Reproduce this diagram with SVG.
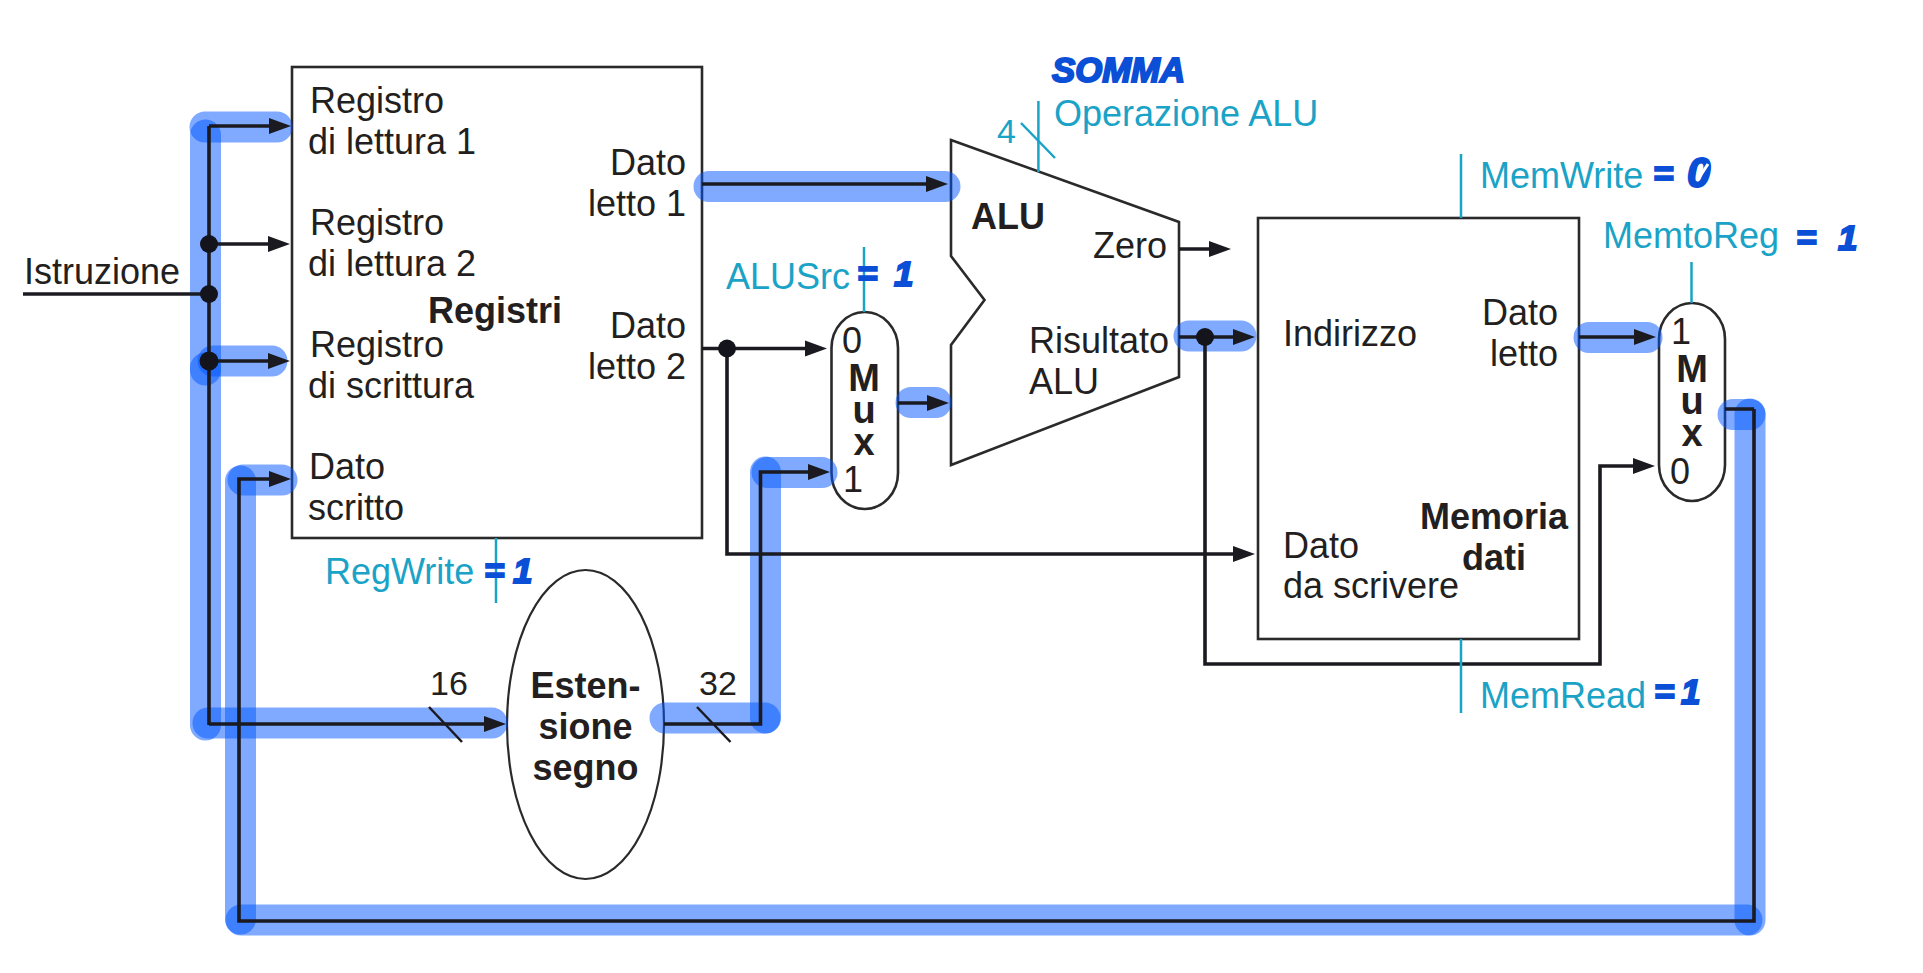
<svg xmlns="http://www.w3.org/2000/svg" width="1923" height="973" viewBox="0 0 1923 973">
<style>
text{font-family:"Liberation Sans",Arial,sans-serif;font-size:36px;fill:#231f20}
.b{font-weight:bold}
.m{text-anchor:middle}
.e{text-anchor:end}
.t{fill:#1aa3c6}
.x{font-size:38px}
.box{fill:#fff;stroke:#2b2a2b;stroke-width:2.6}
.ctl{fill:none;stroke:#1aa3c6;stroke-width:2.5}
.hl{fill:none;stroke:#0055ff;stroke-opacity:.5;stroke-width:31;stroke-linecap:round;stroke-linejoin:round}
.w{fill:none;stroke:#1a1a20;stroke-width:3.6}
.a{marker-end:url(#arr)}
.s{fill:none;stroke:#1a1a20;stroke-width:2.5}
.d{fill:#14141c}
.hw{font-weight:bold;font-style:italic;fill:#0a4fd6;stroke:#0a4fd6;stroke-width:2;font-size:35px}
</style>
<defs>
<marker id="arr" markerUnits="userSpaceOnUse" markerWidth="24" markerHeight="18" refX="14" refY="9" orient="auto"><path d="M0,1 L22,9 L0,17 Z" fill="#1a1a20"/></marker>
</defs>
<rect width="1923" height="973" fill="#fff"/>

<g id="registri">
<rect class="box" x="292" y="67" width="410" height="471"/>
<text x="310" y="113">Registro</text><text x="308" y="154">di lettura 1</text>
<text x="310" y="235">Registro</text><text x="308" y="276">di lettura 2</text>
<text x="310" y="357">Registro</text><text x="308" y="398">di scrittura</text>
<text x="309" y="479">Dato</text><text x="308" y="520">scritto</text>
<text class="e" x="686" y="175">Dato</text><text class="e" x="686" y="216">letto 1</text>
<text class="e" x="686" y="338">Dato</text><text class="e" x="686" y="379">letto 2</text>
<text class="b" x="428" y="323">Registri</text>
</g>
<g id="istruzione"><text x="24" y="284">Istruzione</text></g>
<g id="mux-alusrc">
<rect class="box" x="831.5" y="312" width="66.5" height="197" rx="33" ry="36"/>
<text x="842" y="353">0</text><text x="843" y="492">1</text>
<text class="b m x" x="864" y="391">M</text><text class="b m x" x="864" y="423">u</text><text class="b m x" x="864" y="455">x</text>
</g>
<g id="alu">
<path class="box" d="M951,140 L1179,222 L1179,377 L951,465 L951,345 L984.5,300 L951,256 Z"/>
<text class="b" x="971" y="229">ALU</text>
<text x="1093" y="258">Zero</text>
<text x="1029" y="353">Risultato</text><text x="1029" y="394">ALU</text>
</g>
<g id="memoria">
<rect class="box" x="1258" y="218" width="321" height="421"/>
<text x="1283" y="346">Indirizzo</text>
<text class="e" x="1558" y="325">Dato</text><text class="e" x="1558" y="366">letto</text>
<text x="1283" y="558">Dato</text><text x="1283" y="598">da scrivere</text>
<text class="b m" x="1494" y="529">Memoria</text><text class="b m" x="1494" y="570">dati</text>
</g>
<g id="mux-memtoreg">
<rect class="box" x="1659" y="303" width="66" height="198" rx="33" ry="36"/>
<text x="1671" y="344">1</text><text x="1670" y="484">0</text>
<text class="b m x" x="1692" y="382">M</text><text class="b m x" x="1692" y="414">u</text><text class="b m x" x="1692" y="446">x</text>
</g>
<g id="estensione">
<ellipse class="box" cx="585.5" cy="724.5" rx="78.5" ry="154.5" style="stroke-width:2.2"/>
<text class="b m" x="585.5" y="698">Esten-</text><text class="b m" x="585.5" y="739">sione</text><text class="b m" x="585.5" y="780">segno</text>
</g>

<g id="highlights">
<path class="hl" d="M205.5,135 V370"/>
<path class="hl" d="M205.5,368 V725"/>
<path class="hl" d="M205,127 H277"/>
<path class="hl" d="M213,361 H272"/>
<path class="hl" d="M208,723 H492"/>
<path class="hl" d="M240.5,481 V919"/>
<path class="hl" d="M243,480 H282"/>
<path class="hl" d="M241,920 H1747"/>
<path class="hl" d="M1750,414 V920"/>
<path class="hl" d="M1733,414.5 H1750"/>
<path class="hl" d="M709,186.5 H945"/>
<path class="hl" d="M911,402.5 H936"/>
<path class="hl" d="M1189,336 H1241"/>
<path class="hl" d="M1589,337.5 H1647"/>
<path class="hl" d="M665,718 H765"/>
<path class="hl" d="M765.5,472 V718"/>
<path class="hl" d="M767,472.5 H822"/>
</g>

<g id="connectors">
<path class="w" d="M23,294 H209"/>
<path class="w" d="M209,725 V126"/>
<path class="w a" d="M209,126 H283"/>
<path class="w a" d="M209,244 H282"/>
<path class="w a" d="M209,361 H282"/>
<path class="w a" d="M209,724 H498"/>
<path class="w a" d="M1754,409 H1725 M1754,409 V921 H239 V479 H283"/>
<path class="w a" d="M702,184 H940"/>
<path class="w a" d="M702,348.5 H819"/>
<path class="w a" d="M727,348.5 V554 H1247"/>
<path class="w a" d="M898,403 H941"/>
<path class="w a" d="M664,724 H760.5 V472 H822"/>
<path class="w a" d="M1179,249 H1223"/>
<path class="w a" d="M1179,337 H1247"/>
<path class="w a" d="M1205,337 V664 H1600 V466 H1647"/>
<path class="w a" d="M1579,337 H1648"/>
<path class="s" d="M429,707 L462,742"/>
<path class="s" d="M697,707 L730.5,742"/>
<circle class="d" cx="209" cy="244" r="9"/>
<circle class="d" cx="209" cy="294" r="9"/>
<circle class="d" cx="209" cy="361" r="9.5"/>
<circle class="d" cx="727" cy="348.5" r="9"/>
<circle class="d" cx="1205" cy="337" r="9"/>
</g>

<g id="etichette">
<text x="430" y="695" style="font-size:34px">16</text>
<text x="699" y="695" style="font-size:34px">32</text>
</g>

<g id="controllo">
<path class="ctl" d="M496,538 V603"/>
<path class="ctl" d="M864,247 V312"/>
<path class="ctl" d="M1038.4,101 V172"/>
<path class="ctl" d="M1021,123 L1055,158"/>
<path class="ctl" d="M1461,154 V218"/>
<path class="ctl" d="M1461,639 V713"/>
<path class="ctl" d="M1691.5,262 V303"/>
<text class="t" x="325" y="584">RegWrite</text>
<text class="t" x="726" y="289">ALUSrc</text>
<text class="t" x="997" y="143" style="font-size:34px">4</text>
<text class="t" x="1054" y="126">Operazione ALU</text>
<text class="t" x="1480" y="188">MemWrite</text>
<text class="t" x="1603" y="248">MemtoReg</text>
<text class="t" x="1480" y="708">MemRead</text>
</g>

<g id="annotazioni">
<text class="hw" x="1052" y="82" textLength="133" lengthAdjust="spacingAndGlyphs">SOMMA</text>
<text class="hw" x="484 513" y="583">=1</text>
<text class="hw" x="857 894" y="286">=1</text>
<text class="hw" x="1653" y="186">=</text>
<text class="hw" x="1687" y="187" style="font-size:42px">0</text>
<path d="M1697,181 L1708,164" fill="none" stroke="#fff" stroke-width="3"/>
<text class="hw" x="1796 1838" y="250">=1</text>
<text class="hw" x="1654 1681" y="704">=1</text>
</g>
</svg>
